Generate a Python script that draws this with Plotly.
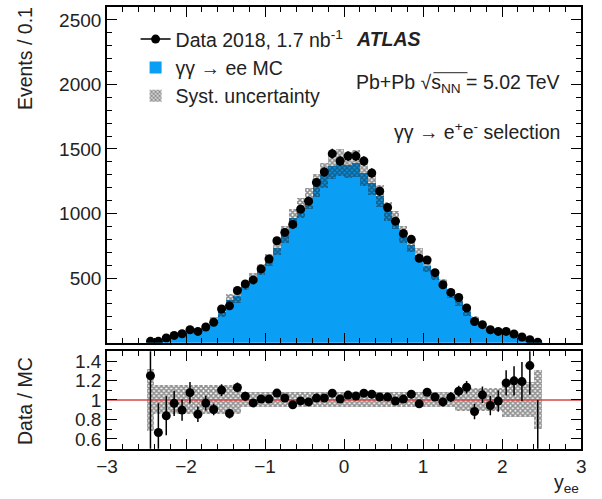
import numpy as np
import plotly.graph_objects as go

# Rapidity bins of width 0.1 from -2.5 to 2.5
bin_low = np.round(np.arange(-2.5, 2.5, 0.1), 2)
bin_centers = np.round(bin_low + 0.05, 2)

# Observed yy -> ee candidates per bin (2018 Pb+Pb data)
data_counts = [10, 10, 36, 56, 69, 100, 87, 121, 157, 260,
               285, 404, 455, 486, 571, 648, 789, 854, 916, 1034,
               1096, 1240, 1322, 1464, 1407,
               1445, 1445, 1407, 1314, 1173, 1047, 941, 846, 800, 654,
               640, 542, 448, 389, 350, 268, 164, 139, 100, 87,
               87, 67, 44, 23, 3]

# Simulated yy -> ee expectation per bin
mc_counts = [8, 15, 43, 58, 77, 93, 102, 125, 174, 236,
             331, 358, 438, 501, 565, 642, 737, 837, 964, 1044,
             1118, 1216, 1296, 1368, 1393,
             1376, 1389, 1315, 1240, 1139, 1017, 951, 838, 755, 681,
             593, 526, 457, 378, 321, 237, 186, 132, 106, 88,
             74, 56, 37, 17, 10]

# Statistical uncertainty on Data / MC
ratio_err = [0.80, 0.30, 0.20, 0.13, 0.11, 0.11, 0.08, 0.075, 0.06, 0.06,
             0.05, 0.05, 0.045, 0.04, 0.04, 0.035, 0.03, 0.03, 0.03, 0.03,
             0.03, 0.03, 0.03, 0.03, 0.03,
             0.03, 0.03, 0.03, 0.03, 0.03, 0.03, 0.03, 0.03, 0.03, 0.035,
             0.035, 0.04, 0.045, 0.05, 0.055, 0.065, 0.08, 0.085, 0.10, 0.11,
             0.13, 0.15, 0.20, 0.30, 0.70]

# Relative systematic uncertainty on the MC prediction
syst_rel = [0.32, 0.15, 0.15, 0.15, 0.15, 0.15, 0.15, 0.15, 0.15, 0.15,
            0.15, 0.15, 0.075, 0.075, 0.075, 0.075, 0.075, 0.075, 0.075, 0.075,
            0.075, 0.075, 0.075, 0.075, 0.075,
            0.075, 0.075, 0.075, 0.075, 0.075, 0.075, 0.075, 0.075, 0.075, 0.075,
            0.075, 0.075, 0.075, 0.075, 0.12, 0.12, 0.12, 0.12, 0.12, 0.12,
            0.18, 0.18, 0.18, 0.18, 0.30]

x_ticks = [-3, -2, -1, 0, 1, 2, 3]
y_ticks = [500, 1000, 1500, 2000, 2500]
r_ticks = [0.6, 0.8, 1.0, 1.2, 1.4]
r_ticktext = ["0.6", "0.8", "1", "1.2", "1.4"]

data = np.array(data_counts, dtype=float)
mc = np.array(mc_counts, dtype=float)
syst = np.array(syst_rel)
ratio = data / mc

W, H = 602, 499
FONT = "Liberation Sans, Arial, Helvetica, sans-serif"
TXT = 19.5
BLUE = "rgb(10,158,245)"


def px(x):
    return x / W


def py(y):
    return 1 - y / H


hatch = dict(shape="x", fgcolor="rgb(30,30,30)", bgcolor="rgba(0,0,0,0)",
             size=3.5, solidity=0.7)

fig = go.Figure()

# legend entry for data (marker with a short line)
fig.add_trace(go.Scatter(x=[None], y=[None], mode="lines+markers",
                         marker=dict(color="black", size=9), line=dict(color="black", width=1.5),
                         name="Data 2018, 1.7 nb<sup>-1</sup>", legendgroup="a", legendrank=1,
                         xaxis="x", yaxis="y"))
# MC histogram
fig.add_trace(go.Bar(x=bin_centers, y=mc, width=0.1, marker=dict(color=BLUE, line=dict(width=0)),
                     name="γγ → ee MC", legendgroup="b", legendrank=2, xaxis="x", yaxis="y"))
# systematic band on MC
fig.add_trace(go.Bar(x=bin_centers, y=2 * mc * syst, base=mc * (1 - syst), width=0.1,
                     marker=dict(color="rgba(0,0,0,0)", line=dict(width=0), pattern=hatch),
                     name="Syst. uncertainty", legendgroup="c", legendrank=3,
                     xaxis="x", yaxis="y"))
# data points
fig.add_trace(go.Scatter(x=bin_centers, y=data, mode="markers",
                         marker=dict(color="black", size=9),
                         error_y=dict(type="data", array=np.sqrt(data), color="black",
                                      thickness=1.5, width=0),
                         showlegend=False, xaxis="x", yaxis="y"))

# ratio: unity line, systematic band, data/MC
fig.add_trace(go.Scatter(x=[-3, 3], y=[1, 1], mode="lines",
                         line=dict(color="rgb(215,70,70)", width=1.3),
                         showlegend=False, xaxis="x2", yaxis="y2"))
fig.add_trace(go.Bar(x=bin_centers, y=2 * syst, base=1 - syst, width=0.1,
                     marker=dict(color="rgba(0,0,0,0)", line=dict(width=0), pattern=hatch),
                     showlegend=False, xaxis="x2", yaxis="y2"))
fig.add_trace(go.Scatter(x=bin_centers, y=ratio, mode="markers",
                         marker=dict(color="black", size=9),
                         error_y=dict(type="data", array=ratio_err, color="black",
                                      thickness=1.5, width=0),
                         showlegend=False, xaxis="x2", yaxis="y2"))

xdom = [px(98.6), px(585.8)]
axis_common = dict(showline=True, linecolor="black", linewidth=1.6, mirror="allticks",
                   ticks="inside", ticklen=10, tickwidth=1.3, tickcolor="black",
                   showgrid=False, zeroline=False,
                   tickfont=dict(family=FONT, size=19, color="#222"))


def minor(d):
    return dict(ticks="inside", ticklen=5, dtick=d, tick0=0, tickcolor="black",
                tickwidth=1.2, showgrid=False)


fig.update_layout(
    width=W, height=H, autosize=False,
    margin=dict(l=0, r=0, t=0, b=0),
    paper_bgcolor="white", plot_bgcolor="white",
    barmode="overlay", bargap=0,
    font=dict(family=FONT, size=19, color="#222"),
    xaxis=dict(domain=xdom, range=[-3, 3], anchor="y", showticklabels=False,
               tickvals=x_ticks, minor=minor(0.2), **axis_common),
    yaxis=dict(domain=[py(343), py(6)], range=[0, 2600], anchor="x",
               tickvals=y_ticks, minor=minor(100), **axis_common),
    xaxis2=dict(domain=xdom, range=[-3, 3], anchor="y2", tickvals=x_ticks,
                minor=minor(0.2), **axis_common),
    yaxis2=dict(domain=[py(449.5), py(351.7)], range=[0.5, 1.5], anchor="x2",
                tickvals=r_ticks, ticktext=r_ticktext, minor=minor(0.1), **axis_common),
    legend=dict(x=px(128), y=py(19), xanchor="left", yanchor="top",
                bgcolor="rgba(0,0,0,0)", borderwidth=0,
                traceorder="grouped", tracegroupgap=0,
                font=dict(family=FONT, size=TXT, color="#222")),
    showlegend=True,
)

ann = [
    dict(text="Events / 0.1", x=px(15), y=py(4), textangle=-90,
         xanchor="center", yanchor="top"),
    dict(text="Data / MC", x=px(15), y=py(402), textangle=-90,
         xanchor="center", yanchor="middle"),
    dict(text="y<sub>ee</sub>", x=px(586), y=py(484), xanchor="right", yanchor="middle"),
    dict(text="<b><i>ATLAS</i></b>", x=px(352), y=py(38), xanchor="left", yanchor="middle"),
    dict(text="Pb+Pb √s<sub>NN</sub> = 5.02 TeV", x=px(566), y=py(83), xanchor="right",
         yanchor="middle"),
    dict(text="γγ → e<sup>+</sup>e<sup>-</sup> selection", x=px(566), y=py(131),
         xanchor="right", yanchor="middle"),
]
for a in ann:
    a.update(xref="paper", yref="paper", showarrow=False,
             font=dict(family=FONT, color="#222", size=TXT))
fig.update_layout(annotations=ann)

# overline of the square root over s_NN
fig.add_shape(type="line", xref="paper", yref="paper",
              x0=px(434), x1=px(469), y0=py(72), y1=py(72),
              line=dict(color="#222", width=1))

fig.write_html("out.html")
